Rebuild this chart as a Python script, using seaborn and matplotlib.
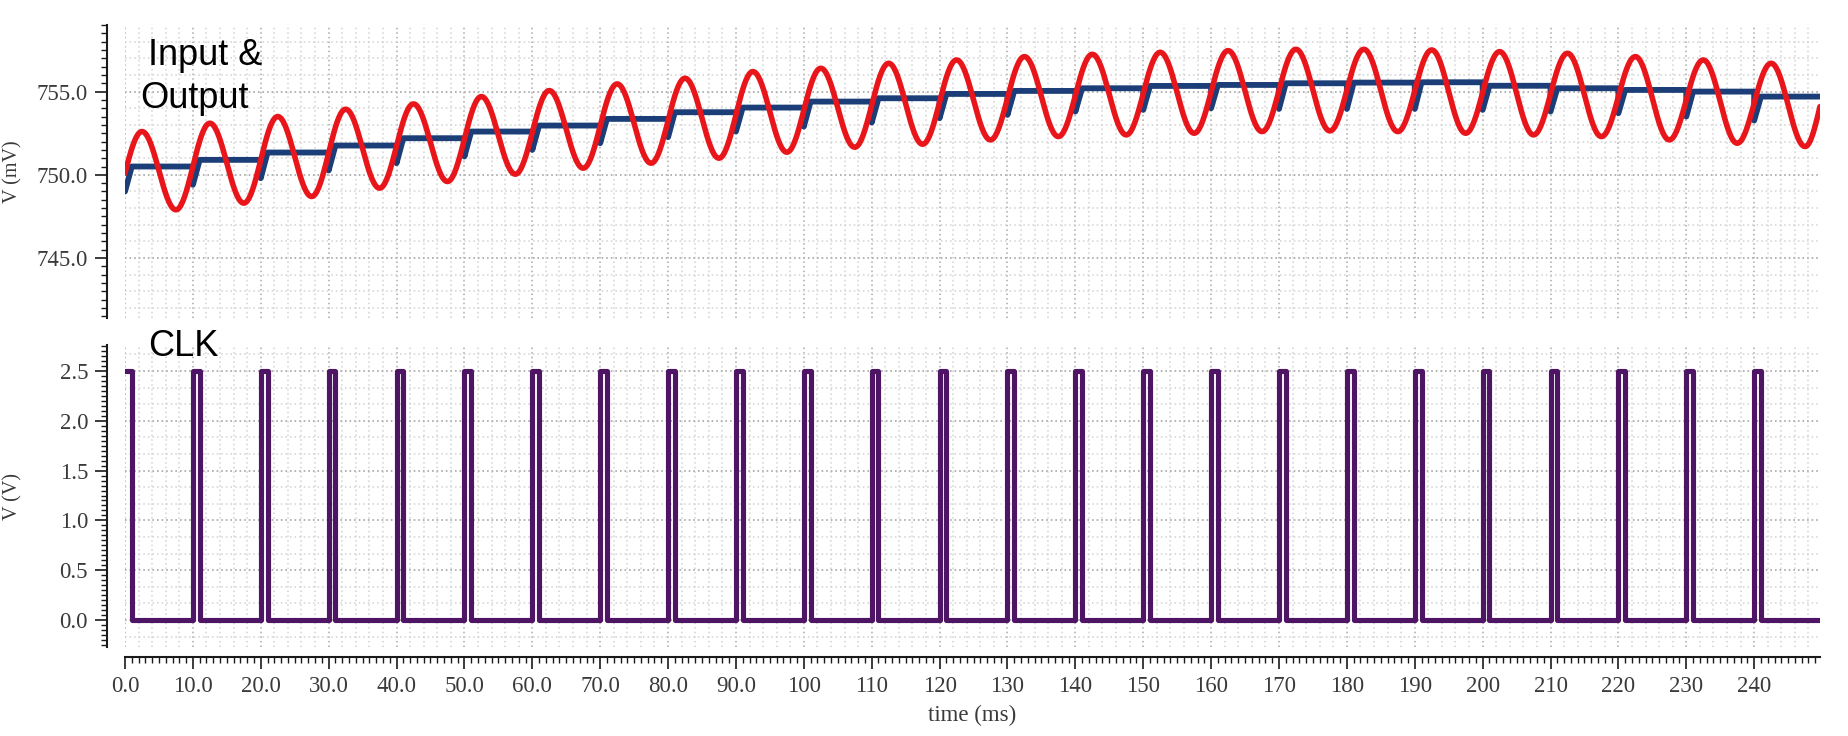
import numpy as np
import pandas as pd
import seaborn as sns
import matplotlib
matplotlib.use("Agg")
import matplotlib.pyplot as plt
from matplotlib.ticker import MultipleLocator, FuncFormatter

# clock: one 1 ms pulse every 10 ms, 0 V / 2.5 V
clk_rise = [0, 10, 20, 30, 40, 50, 60, 70, 80, 90, 100, 110, 120,
            130, 140, 150, 160, 170, 180, 190, 200, 210, 220, 230, 240]
clk_width = 1.0
clk_high = 2.5
t_end = 249.7

# sample & hold output (mV): level held after each clock, and the dip at the edge
out_level = [750.5, 750.9, 751.34, 751.76, 752.2, 752.6, 752.96, 753.36, 753.76,
             754.04, 754.4, 754.6, 754.86, 755.04, 755.2, 755.34, 755.4, 755.5,
             755.54, 755.56, 755.35, 755.2, 755.1, 755.0, 754.7]
out_dip = [749.0, 749.4, 749.8, 750.26, 750.7, 751.1, 751.5, 751.9, 752.26,
           752.6, 752.9, 753.14, 753.4, 753.6, 753.8, 753.9, 754.0, 753.96,
           753.96, 753.96, 753.9, 753.8, 753.7, 753.5, 753.26]

# input sine (mV): peaks and troughs
in_peak_t = [2.5, 12.5, 22.5, 32.5, 42.5, 52.5, 62.5, 72.5, 82.5, 92.5, 102.5,
             112.5, 122.5, 132.5, 142.5, 152.5, 162.5, 172.5, 182.5, 192.5,
             202.5, 212.5, 222.5, 232.5, 242.5]
in_peak = [752.6, 753.1, 753.5, 753.94, 754.26, 754.7, 755.06, 755.46, 755.8,
           756.2, 756.4, 756.7, 756.9, 757.1, 757.24, 757.36, 757.46, 757.54,
           757.54, 757.5, 757.4, 757.3, 757.1, 756.9, 756.7]
in_trough_t = [7.5, 17.5, 27.5, 37.5, 47.5, 57.5, 67.5, 77.5, 87.5, 97.5, 107.5,
               117.5, 127.5, 137.5, 147.5, 157.5, 167.5, 177.5, 187.5, 197.5,
               207.5, 217.5, 227.5, 237.5, 247.5]
in_trough = [747.9, 748.3, 748.7, 749.2, 749.6, 750.04, 750.4, 750.7, 751.0,
             751.36, 751.66, 751.84, 752.1, 752.3, 752.4, 752.5, 752.6, 752.64,
             752.6, 752.5, 752.4, 752.3, 752.1, 751.9, 751.7]
in_start = 750.1
in_end = 754.1

# ---- build traces ----
knots_t = [0.0]
knots_v = [in_start]
for pt, pv, tt, tv in zip(in_peak_t, in_peak, in_trough_t, in_trough):
    knots_t += [pt, tt]
    knots_v += [pv, tv]
knots_t.append(t_end)
knots_v.append(in_end)

tin, vin = [], []
n_seg = len(knots_t) - 1
for i in range(n_seg):
    s = np.linspace(0, 1, 40)
    if i == 0:
        ease = np.sin(np.pi / 2 * s)
    elif i == n_seg - 1:
        ease = 1 - np.cos(np.pi / 2 * s)
    else:
        ease = (1 - np.cos(np.pi * s)) / 2
    tin += list(knots_t[i] + (knots_t[i + 1] - knots_t[i]) * s)
    vin += list(knots_v[i] + (knots_v[i + 1] - knots_v[i]) * ease)
df_in = pd.DataFrame({"t": tin, "v": vin})

tout, vout = [], []
for k, t0 in enumerate(clk_rise):
    t1 = clk_rise[k + 1] if k + 1 < len(clk_rise) else t_end
    tout += [t0, t0 + clk_width, t1]
    vout += [out_dip[k], out_level[k], out_level[k]]
df_out = pd.DataFrame({"t": tout, "v": vout})

tclk, vclk = [], []
for k, t0 in enumerate(clk_rise):
    if k > 0:
        tclk.append(t0)
        vclk.append(0.0)
    tclk += [t0, t0 + clk_width, t0 + clk_width]
    vclk += [clk_high, clk_high, 0.0]
tclk.append(t_end)
vclk.append(0.0)
df_clk = pd.DataFrame({"t": tclk, "v": vclk})

# ---- figure ----
sns.set_style("white")
plt.rcParams["font.family"] = ["Liberation Serif", "DejaVu Serif"]

W, H = 1848, 736
fig = plt.figure(figsize=(W / 100, H / 100), dpi=100)
ax1 = fig.add_axes([125 / W, 1 - 318 / H, 1695 / W, 293 / H])
ax2 = fig.add_axes([125 / W, 1 - 647 / H, 1695 / W, 302 / H])

red = "#e8161b"
blue = "#1b3d78"
purple = "#4d1563"

sns.lineplot(data=df_out, x="t", y="v", ax=ax1, color=blue, lw=4.2,
             sort=False, estimator=None, zorder=3)
sns.lineplot(data=df_in, x="t", y="v", ax=ax1, color=red, lw=4.0,
             sort=False, estimator=None, zorder=4)
sns.lineplot(data=df_clk, x="t", y="v", ax=ax2, color=purple, lw=3.7,
             sort=False, estimator=None, zorder=3)

ax1.set_xlim(0, t_end)
ax2.set_xlim(0, t_end)
ax1.set_ylim(741.4, 759.0)
ax2.set_ylim(-0.27, 2.76)

# dotted grid, drawn under the traces
for ax, ymin, ymax, ymaj, ymn in [(ax1, 741.4, 759.0, 5, 1.0), (ax2, -0.27, 2.76, 0.5, 1 / 6)]:
    for x in np.arange(0, t_end, 2):
        major = abs(x / 10 - round(x / 10)) < 1e-6
        ax.axvline(x, color="#a9a9a9" if major else "#d2d2d2", lw=1.1,
                   ls=(0, (1, 2)), zorder=0)
    y = np.ceil(ymin / ymn) * ymn
    while y < ymax:
        ax.axhline(y, color="#d2d2d2", lw=1.1, ls=(0, (1, 2)), zorder=0)
        y += ymn
    y = np.ceil(ymin / ymaj) * ymaj
    while y < ymax:
        ax.axhline(y, color="#a9a9a9", lw=1.1, ls=(0, (1, 2)), zorder=0)
        y += ymaj

sns.despine(ax=ax1, bottom=True, offset={"left": 13})
sns.despine(ax=ax2, offset={"left": 13, "bottom": 7.2})

ax1.set_xticks([])
ax1.set_xlabel("")
ax1.yaxis.set_major_locator(MultipleLocator(5))
ax1.yaxis.set_minor_locator(MultipleLocator(0.5))
ax1.yaxis.set_major_formatter(FuncFormatter(lambda v, p: f"{v:.1f}"))
ax2.yaxis.set_major_locator(MultipleLocator(0.5))
ax2.yaxis.set_minor_locator(MultipleLocator(0.05))
ax2.yaxis.set_major_formatter(FuncFormatter(lambda v, p: f"{v:.1f}"))
ax2.xaxis.set_major_locator(MultipleLocator(10))
ax2.xaxis.set_minor_locator(MultipleLocator(1))
ax2.xaxis.set_major_formatter(
    FuncFormatter(lambda v, p: f"{v:.1f}" if v < 99.5 else f"{v:.0f}"))

for ax in (ax1, ax2):
    for sp in ax.spines.values():
        sp.set_color("#1a1a1a")
        sp.set_linewidth(1.5)
    ax.tick_params(which="major", length=8.6, width=1.2, color="#1a1a1a",
                   labelsize=16.5, labelcolor="#3a3a3a", pad=5,
                   left=True, bottom=(ax is ax2))
    ax.tick_params(which="minor", length=4.3, width=1.0, color="#1a1a1a",
                   left=True, bottom=(ax is ax2))

ax1.set_ylabel("V (mV)", fontsize=14.5, color="#3a3a3a")
ax2.set_ylabel("V (V)", fontsize=14.5, color="#3a3a3a")
ax1.yaxis.set_label_coords(-0.0605, 0.5)
ax2.yaxis.set_label_coords(-0.0605, 0.5)
ax2.set_xlabel("time (ms)", fontsize=16.5, color="#3a3a3a")
ax2.xaxis.set_label_coords(0.5, -0.19)

# trace annotations
fig.text(148 / W, 1 - 65 / H, "Input &", fontsize=26, family="Liberation Sans",
         va="baseline", ha="left", color="black")
fig.text(140 / W, 1 - 108 / H, "Output", fontsize=26, family="Liberation Sans",
         va="baseline", ha="left", color="black")
fig.text(148 / W, 1 - 356 / H, "CLK", fontsize=26, family="Liberation Sans",
         va="baseline", ha="left", color="black")

fig.savefig("out.png", dpi=100, facecolor="white")
